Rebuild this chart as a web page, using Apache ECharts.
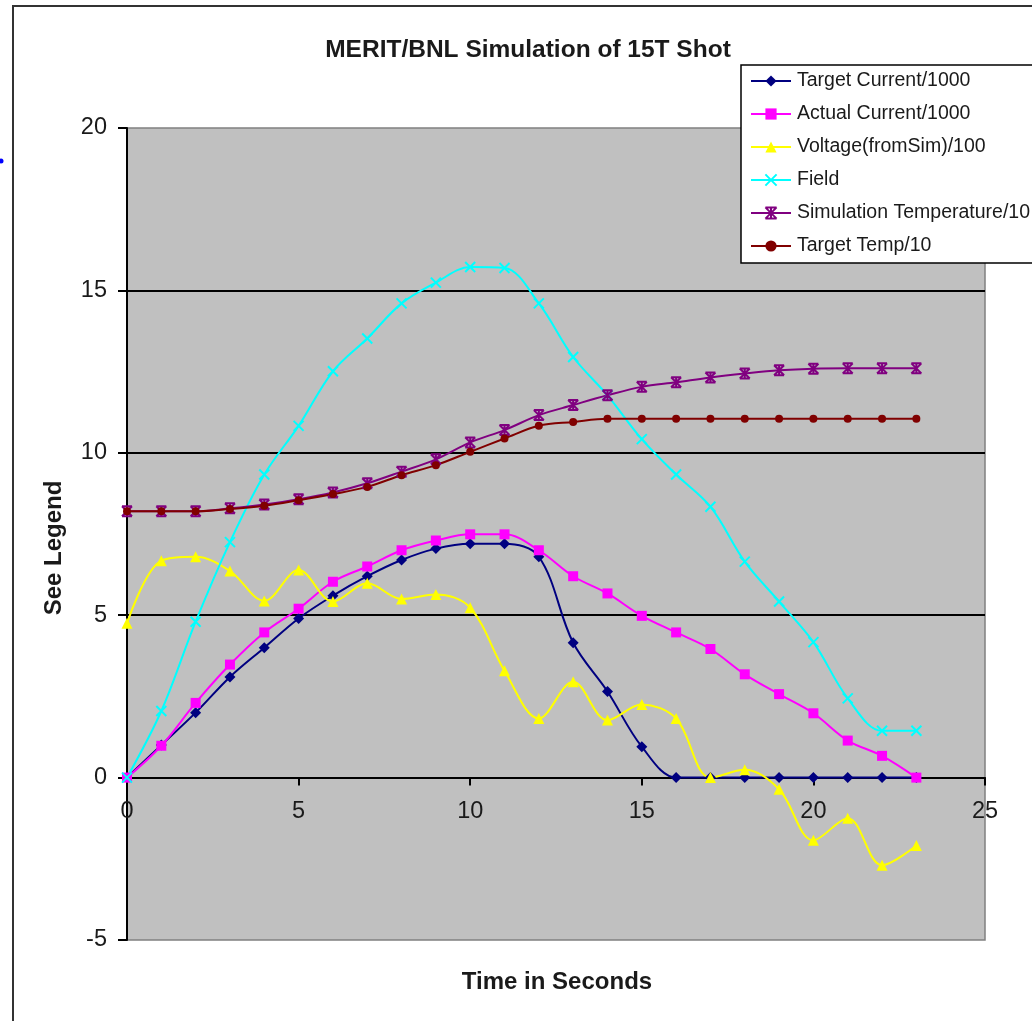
<!DOCTYPE html>
<html>
<head>
<meta charset="utf-8">
<script src="https://cdn.jsdelivr.net/npm/echarts@6/dist/echarts.min.js"></script>
<style>
html,body{margin:0;padding:0;background:#fff;}
#chart{width:1032px;height:1021px;}
</style>
</head>
<body>
<div id="chart"></div>
<script>
var times = [0,1,2,3,4,5,6,7,8,9,10,11,12,13,14,15,16,17,18,19,20,21,22,23];
var targetCurrent = [0,1.0,2.0,3.1,4.0,4.9,5.6,6.2,6.7,7.05,7.2,7.2,6.8,4.15,2.65,0.95,0,0,0,0,0,0,0,0];
var actualCurrent = [0,0.98,2.3,3.48,4.47,5.2,6.03,6.5,7.0,7.3,7.49,7.49,7.0,6.2,5.67,4.98,4.47,3.96,3.18,2.57,1.98,1.14,0.67,0];
var voltage = [4.75,6.68,6.8,6.36,5.44,6.39,5.42,5.98,5.5,5.64,5.23,3.29,1.82,2.95,1.77,2.25,1.82,0.0,0.24,-0.36,-1.93,-1.25,-2.7,-2.09];
var field = [0,2.05,4.8,7.25,9.33,10.83,12.51,13.52,14.6,15.24,15.72,15.69,14.6,12.95,11.77,10.42,9.33,8.34,6.65,5.42,4.17,2.44,1.44,1.44];
var simTemp = [8.2,8.2,8.2,8.29,8.41,8.57,8.78,9.06,9.42,9.8,10.32,10.7,11.16,11.47,11.77,12.03,12.17,12.32,12.44,12.54,12.59,12.6,12.6,12.6];
var targetTemp = [8.2,8.2,8.2,8.27,8.37,8.54,8.73,8.95,9.31,9.62,10.03,10.44,10.83,10.95,11.05,11.05,11.05,11.05,11.05,11.05,11.05,11.05,11.05,11.05];
var yTicks = [-5,0,5,10,15,20];
var xTicks = [0,5,10,15,20,25];

function pairs(arr){ return times.map(function(t,i){ return [t, arr[i]]; }); }

var FONT = '"Liberation Sans", Arial, sans-serif';
var GRID_TOP = 128, GRID_BOTTOM = 81, H = 1021;
var plotH = H - GRID_TOP - GRID_BOTTOM;
var yMin = yTicks[0], yMax = yTicks[yTicks.length-1];
// move the x axis up from the grid bottom to the y=0 line
var zeroOffset = -plotH * (0 - yMin) / (yMax - yMin);

var chart = echarts.init(document.getElementById('chart'), null, {renderer:'canvas'});

function mk(name, data, color, symbol, size, extra){
  var s = {
    name: name, type: 'line', data: pairs(data), smooth: 0.35,
    symbol: symbol, symbolSize: size,
    lineStyle: {color: color, width: 2},
    itemStyle: {color: color},
    emphasis: {disabled: true},
    z: 3
  };
  if (extra) { s.itemStyle.borderColor = color; s.itemStyle.borderWidth = 2; }
  return s;
}

chart.setOption({
  animation: false,
  backgroundColor: '#ffffff',
  textStyle: {fontFamily: FONT},
  grid: {left:127, top:GRID_TOP, right:47, bottom:GRID_BOTTOM, show:true, backgroundColor:'#C0C0C0', borderColor:'#808080', borderWidth:1.5},
  legend: {
    left: 741, top: 65, orient: 'vertical',
    backgroundColor: '#ffffff', borderColor: '#000', borderWidth: 1.5,
    padding: [6, 90, 7, 9], itemWidth: 40, itemHeight: 14, itemGap: 13,
    textStyle: {fontSize: 19.5, color: '#1a1a1a', fontFamily: FONT, padding:[0,0,0,1]},
    data: ['Target Current/1000','Actual Current/1000','Voltage(fromSim)/100','Field','Simulation Temperature/10','Target Temp/10']
  },
  xAxis: {
    type: 'value', min: xTicks[0], max: xTicks[xTicks.length-1], interval: 5,
    position: 'bottom', offset: zeroOffset,
    axisLine: {onZero: false, lineStyle: {color:'#000', width:2}},
    axisTick: {show:true, inside:false, length:8, lineStyle:{color:'#000', width:2}},
    axisLabel: {fontSize: 23.5, color:'#1a1a1a', margin: 22, fontFamily: FONT},
    splitLine: {show:false}
  },
  yAxis: {
    type: 'value', min: yMin, max: yMax, interval: 5,
    axisLine: {show:true, onZero:false, lineStyle: {color:'#000', width:2}},
    axisTick: {show:true, inside:false, length:9, lineStyle:{color:'#000', width:2}},
    axisLabel: {fontSize: 23.5, color:'#1a1a1a', margin: 20, fontFamily: FONT},
    splitLine: {show:true, showMinLine:false, showMaxLine:false, lineStyle:{color:'#000', width:2}}
  },
  graphic: [
    {type:'rect', shape:{x:13, y:6, width:1200, height:1200}, style:{fill:'none', stroke:'#333', lineWidth:2}, silent:true, z:-10},
    {type:'circle', shape:{cx:1, cy:161, r:2.5}, style:{fill:'#0000ff'}, silent:true},
    {type:'text', x:528, y:50, style:{text:'MERIT/BNL Simulation of 15T Shot', font:'bold 24.5px '+FONT, fill:'#1a1a1a', textAlign:'center', textVerticalAlign:'middle'}},
    {type:'text', x:557, y:982, style:{text:'Time in Seconds', font:'bold 24px '+FONT, fill:'#1a1a1a', textAlign:'center', textVerticalAlign:'middle'}},
    {type:'text', x:54, y:548, rotation:Math.PI/2, style:{text:'See Legend', font:'bold 24px '+FONT, fill:'#1a1a1a', textAlign:'center', textVerticalAlign:'middle'}}
  ],
  series: [
    mk('Target Current/1000', targetCurrent, '#000080', 'diamond', 11),
    mk('Actual Current/1000', actualCurrent, '#FF00FF', 'rect', 10),
    mk('Voltage(fromSim)/100', voltage, '#FFFF00', 'triangle', 11),
    mk('Field', field, '#00FFFF', 'path://M0,0L10,10M10,0L0,10', 10, true),
    mk('Simulation Temperature/10', simTemp, '#800080', 'path://M0,0L10,10M10,0L0,10M5,0L5,10M0,0L10,0M0,10L10,10', 10, true),
    mk('Target Temp/10', targetTemp, '#800000', 'circle', 8)
  ]
});
</script>
</body>
</html>
